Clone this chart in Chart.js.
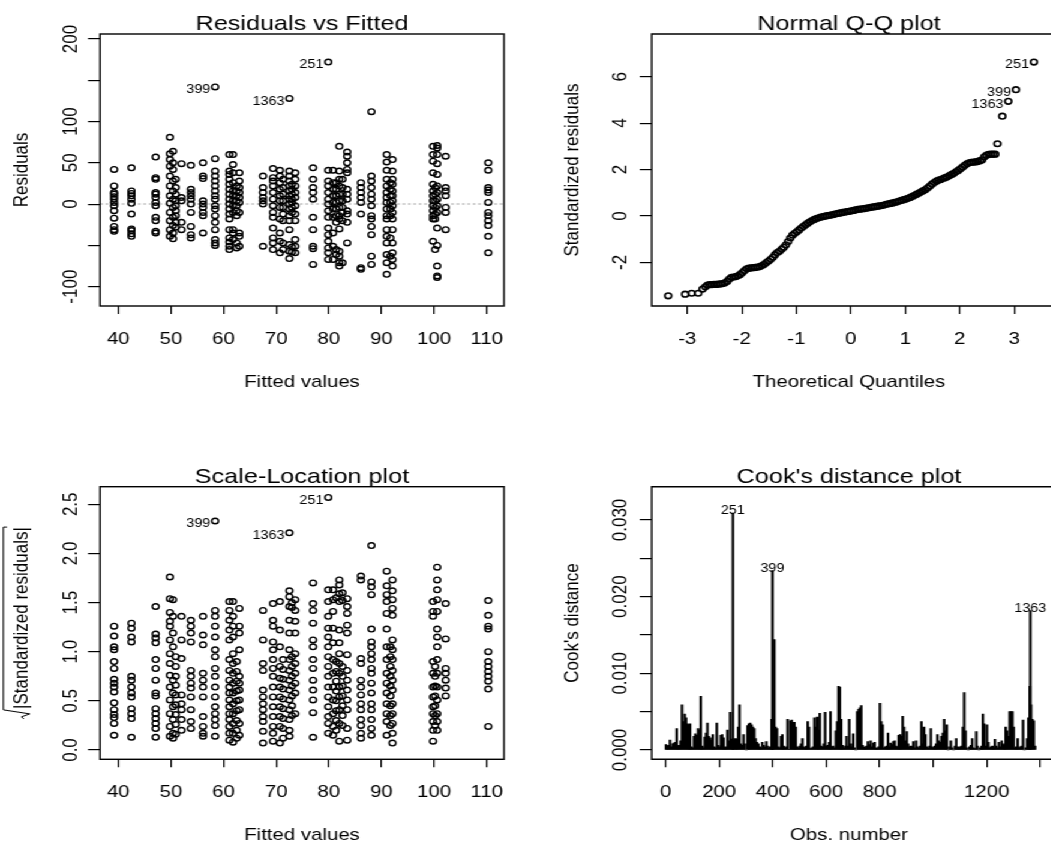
<!DOCTYPE html>
<html>
<head>
<meta charset="utf-8">
<script src="https://cdn.jsdelivr.net/npm/chart.js@4/dist/chart.umd.min.js"></script>
<style>
  html, body { margin: 0; padding: 0; overflow: hidden; background: #fff; width: 1051px; height: 843px; }
  /* R output was stretched sideways, so the whole stage is drawn narrow and scaled */
  #stage { position: absolute; left: 0; top: 0; width: 876px; height: 843px; transform: scaleX(1.2); transform-origin: 0 0; overflow: hidden; }
  .panel { position: absolute; }
</style>
</head>
<body>
<div id="stage">
  <div class="panel" style="left:0;top:0;width:440px;height:420px"><canvas id="c-rvf"></canvas></div>
  <div class="panel" style="left:440px;top:0;width:436px;height:420px"><canvas id="c-qq"></canvas></div>
  <div class="panel" style="left:0;top:420px;width:440px;height:423px"><canvas id="c-sl"></canvas></div>
  <div class="panel" style="left:440px;top:420px;width:436px;height:423px"><canvas id="c-cook"></canvas></div>
</div>
<script>
// fitted value columns (shared by the two left panels)
const fitLevels = [39.2, 42.5, 47.1, 49.8, 50.4, 52.0, 53.8, 56.1, 58.4, 61.1, 61.8, 63.0, 67.5, 69.4, 70.7,
  72.5, 73.6, 77.0, 79.9, 80.8, 82.0, 83.5, 86.1, 88.1, 91.0, 92.1, 99.8, 100.6, 102.2, 110.3,
  50.9, 62.5, 71.3, 73.0, 81.4, 82.6, 91.7, 100.2];

// residuals per fitted column
const residCols = [
  [42, 22, 14, 12, 9, 6, 2, -2, -8, -17, -27, -31, -33],
  [44, 16, 13, 10, 6, 1, -12, -30, -32, -36, -39],
  [57, 32, 30, 14, 12, 8, 2, -2, -16, -20, -33, -35],
  [81, 61, 54, 46, 34, 22, 10, 1, -10, -20, -31, -39],
  [64, 50, 42, 28, 16, 6, -4, -16, -26, -35, -42],
  [49, 8, 4, -22, -31],
  [47, 18, 14, 10, 6, 0, -10, -27, -37, -41],
  [50, 34, 31, 4, 0, -4, -10, -14, -35],
  [55, 40, 34, 28, 22, 16, 10, 6, -2, -6, -14, -22, -31, -43, -47, -50],
  [60, 40, 36, 30, 24, 18, 12, 6, 0, -6, -12, -18, -31, -41, -46, -51, -55],
  [60, 48, 38, 26, 16, 10, 4, -2, -10, -31, -35, -43],
  [38, 28, 20, 14, 8, 2, -10, -35, -39, -51],
  [34, 20, 14, 8, 4, 0, -51],
  [43, 32, 28, 22, 14, 6, -2, -10, -16, -29, -41, -47, -55],
  [41, 34, 26, 18, 10, 4, -4, -18, -35, -45, -59],
  [40, 34, 28, 22, 16, 10, 6, 0, -6, -14, -20, -31, -49, -57, -66],
  [38, 30, 22, 14, 8, -2, -12, -20, -43, -51, -59],
  [44, 30, 20, 14, 6, -16, -31, -51, -54, -73],
  [41, 28, 22, 14, 6, 0, -8, -16, -29, -37, -45, -53, -59, -67],
  [41, 26, 18, 10, 2, -6, -16, -35, -51, -67],
  [70, 40, 30, 22, 12, 4, -4, -14, -18, -30, -57, -63, -71, -75],
  [63, 58, 50, 42, 38, 18, 12, 6, -8, -12, -22, -47],
  [26, 20, 14, 8, 2, -12, -77, -79],
  [112, 34, 28, 20, 12, 6, -2, -14, -18, -27, -37, -63, -73],
  [60, 51, 41, 30, 22, 14, 8, 2, -6, -14, -18, -31, -39, -47, -61, -71, -85],
  [54, 40, 30, 24, 16, 10, 4, -2, -10, -18, -31, -47, -59, -67, -75],
  [70, 60, 52, 38, 24, 16, 10, 4, -2, -8, -14, -18, -45],
  [71, 68, 60, 49, 36, 22, 14, 6, -2, -10, -29, -50, -75, -87, -89],
  [58, 20, 16, 10, -4, -10, -31],
  [50, 41, 20, 17, 14, 2, -10, -14, -20, -26, -39, -59],
  [30, 20, 12, 4, -2, -8, -14, -22, -28],
  [22, 16, 10, 4, -2, -8, -14, -47, -53],
  [30, 20, 12, 4, -4, -12, -20, -47, -55],
  [24, 18, 12, 6, 2, -4, -10, -52, -58],
  [26, 18, 10, 2, -6, -14, -22, -55, -61],
  [30, 20, 12, 4, -4, -10, -20, -71],
  [26, 18, 10, 2, -6, -14, -41, -63],
  [20, 12, 4, -4, -12, -18, -55]
];

// sqrt(|standardized residuals|) per fitted column
const sqrtCols = [
  [1.26, 1.16, 1.05, 1.02, 0.90, 0.83, 0.72, 0.68, 0.64, 0.59, 0.48, 0.41, 0.36, 0.33, 0.27, 0.15],
  [1.29, 1.24, 1.15, 1.10, 0.75, 0.71, 0.64, 0.58, 0.54, 0.42, 0.37, 0.32, 0.13],
  [1.46, 1.18, 1.14, 1.09, 0.92, 0.83, 0.71, 0.58, 0.55, 0.42, 0.37, 0.32, 0.27, 0.22, 0.13],
  [1.76, 1.54, 1.40, 1.31, 1.26, 1.12, 0.98, 0.88, 0.76, 0.64, 0.51, 0.37, 0.24, 0.14],
  [1.53, 1.36, 1.19, 1.05, 0.71, 0.58, 0.44, 0.31, 0.17, 0.12],
  [1.36, 1.12, 0.93, 0.56, 0.47, 0.41, 0.31, 0.20],
  [1.32, 1.26, 1.19, 1.10, 0.81, 0.75, 0.68, 0.63, 0.54, 0.41, 0.29, 0.22],
  [1.36, 1.17, 1.07, 0.78, 0.71, 0.64, 0.54, 0.34, 0.24, 0.17, 0.14],
  [1.42, 1.36, 1.26, 1.15, 1.02, 0.95, 0.83, 0.75, 0.64, 0.54, 0.44, 0.37, 0.31, 0.25, 0.14],
  [1.51, 1.42, 1.32, 1.22, 1.12, 0.92, 0.81, 0.71, 0.64, 0.58, 0.51, 0.44, 0.37, 0.31, 0.24, 0.17, 0.10],
  [1.51, 1.36, 1.26, 1.15, 0.98, 0.88, 0.78, 0.68, 0.58, 0.47, 0.37, 0.27, 0.17, 0.08],
  [1.44, 1.26, 1.19, 1.02, 0.75, 0.68, 0.61, 0.51, 0.41, 0.27, 0.15],
  [1.42, 1.12, 0.88, 0.81, 0.61, 0.54, 0.47, 0.41, 0.34, 0.29, 0.19, 0.07],
  [1.49, 1.32, 1.26, 1.10, 1.02, 0.92, 0.83, 0.75, 0.64, 0.54, 0.44, 0.34, 0.24, 0.17, 0.09],
  [1.51, 1.22, 1.05, 0.85, 0.73, 0.64, 0.54, 0.44, 0.34, 0.24, 0.07],
  [1.62, 1.56, 1.46, 1.32, 1.19, 1.02, 0.92, 0.81, 0.71, 0.61, 0.51, 0.41, 0.31, 0.20, 0.14],
  [1.53, 1.42, 1.31, 1.19, 0.98, 0.88, 0.78, 0.68, 0.58, 0.37],
  [1.70, 1.49, 1.42, 1.29, 1.12, 1.05, 0.92, 0.83, 0.71, 0.61, 0.51, 0.38, 0.13],
  [1.63, 1.51, 1.36, 1.24, 1.15, 1.05, 0.95, 0.85, 0.75, 0.64, 0.54, 0.44, 0.34, 0.27, 0.17],
  [1.63, 1.53, 1.41, 1.24, 1.09, 0.92, 0.78, 0.64, 0.51, 0.37, 0.24, 0.15],
  [1.73, 1.68, 1.59, 1.51, 1.22, 1.09, 0.98, 0.88, 0.78, 0.64, 0.54, 0.41, 0.27, 0.09],
  [1.54, 1.46, 1.39, 1.27, 1.19, 0.97, 0.81, 0.71, 0.61, 0.51, 0.41, 0.22, 0.10],
  [1.77, 1.73, 0.93, 0.88, 0.71, 0.64, 0.56, 0.47, 0.41, 0.31, 0.25, 0.17, 0.12],
  [2.08, 1.71, 1.66, 1.58, 1.23, 1.10, 1.05, 0.98, 0.92, 0.83, 0.78, 0.68, 0.58, 0.47, 0.41, 0.31, 0.22, 0.15],
  [1.82, 1.67, 1.58, 1.51, 1.39, 1.23, 1.05, 0.92, 0.78, 0.68, 0.58, 0.47, 0.37, 0.29, 0.15],
  [1.73, 1.62, 1.53, 1.44, 1.37, 1.12, 1.02, 0.92, 0.81, 0.71, 0.61, 0.47, 0.37, 0.27, 0.17, 0.07],
  [1.51, 1.41, 1.36, 0.90, 0.78, 0.64, 0.54, 0.44, 0.37, 0.29, 0.20, 0.09],
  [1.86, 1.73, 1.63, 1.53, 1.41, 1.23, 1.15, 1.05, 0.92, 0.78, 0.64, 0.51, 0.37, 0.29, 0.20],
  [1.49, 1.13, 0.83, 0.78, 0.71, 0.63, 0.55],
  [1.52, 1.37, 1.26, 1.23, 1.00, 0.90, 0.85, 0.80, 0.75, 0.70, 0.62, 0.24],
  [0.95, 0.85, 0.75, 0.66, 0.56, 0.46, 0.36, 0.26, 0.16],
  [0.90, 0.80, 0.70, 0.60, 0.50, 0.40, 0.30, 0.20, 0.12],
  [0.92, 0.82, 0.72, 0.62, 0.52, 0.42, 0.32, 0.22, 0.12],
  [1.50, 1.45, 0.95, 0.85, 0.75, 0.65, 0.55, 0.45, 0.35],
  [1.55, 0.90, 0.80, 0.70, 0.60, 0.50, 0.40, 0.30, 0.20],
  [1.60, 1.52, 0.85, 0.75, 0.65, 0.55, 0.45, 0.35, 0.25],
  [1.05, 0.95, 0.85, 0.75, 0.65, 0.55, 0.45, 0.35, 0.25],
  [0.85, 0.75, 0.65, 0.55, 0.45, 0.35, 0.25]
];

// the three flagged observations
const obsIds = ['251', '399', '1363'];
const outObs = [251, 399, 1363];
const outFitted = [79.9, 58.4, 72.5];
const outResid = [172, 142, 128];
const outSqrtStd = [2.57, 2.33, 2.21];
const outTheo = [3.36, 3.03, 2.89];
const outStd = [6.63, 5.44, 4.94];
const outCook = [0.0309, 0.0234, 0.0182];

// normal Q-Q points [theoretical quantile, standardized residual]
const qqPairs = [
  [-3.35, -3.44], [-3.04, -3.37], [-2.92, -3.33], [-2.80, -3.33], [-2.72, -3.15], [-2.67, -3.05], [-2.63, -2.98],
  [-2.59, -2.96], [-2.55, -2.96], [-2.51, -2.95], [-2.47, -2.95], [-2.43, -2.94], [-2.39, -2.93], [-2.35, -2.91],
  [-2.31, -2.88], [-2.27, -2.82], [-2.23, -2.72], [-2.19, -2.65], [-2.15, -2.63], [-2.11, -2.61], [-2.07, -2.58],
  [-2.03, -2.52], [-1.99, -2.44], [-1.95, -2.35], [-1.91, -2.28], [-1.87, -2.25], [-1.83, -2.24], [-1.79, -2.23],
  [-1.75, -2.22], [-1.71, -2.20], [-1.67, -2.18], [-1.63, -2.14], [-1.59, -2.08], [-1.55, -2.01], [-1.51, -1.94],
  [-1.47, -1.87], [-1.43, -1.78], [-1.39, -1.67], [-1.35, -1.58], [-1.31, -1.52], [-1.27, -1.44], [-1.23, -1.35],
  [-1.19, -1.24], [-1.15, -1.10], [-1.11, -0.95], [-1.07, -0.83], [-1.03, -0.75], [-0.99, -0.68], [-0.95, -0.60],
  [-0.91, -0.52], [-0.87, -0.45], [-0.83, -0.38], [-0.79, -0.31], [-0.75, -0.25], [-0.71, -0.20], [-0.67, -0.15],
  [-0.63, -0.11], [-0.59, -0.08], [-0.55, -0.05], [-0.51, -0.03], [-0.47, -0.01], [-0.43, 0.01], [-0.39, 0.03],
  [-0.35, 0.05], [-0.31, 0.07], [-0.27, 0.09], [-0.23, 0.11], [-0.19, 0.13], [-0.15, 0.15], [-0.11, 0.17],
  [-0.07, 0.19], [-0.03, 0.20], [0.01, 0.22], [0.05, 0.24], [0.09, 0.26], [0.13, 0.28], [0.17, 0.29],
  [0.21, 0.31], [0.25, 0.32], [0.29, 0.34], [0.33, 0.35], [0.37, 0.37], [0.41, 0.39], [0.45, 0.40],
  [0.49, 0.42], [0.53, 0.43], [0.57, 0.45], [0.61, 0.47], [0.65, 0.50], [0.69, 0.52], [0.73, 0.54],
  [0.77, 0.56], [0.81, 0.59], [0.85, 0.61], [0.89, 0.64], [0.93, 0.67], [0.97, 0.70], [1.01, 0.73],
  [1.05, 0.76], [1.09, 0.80], [1.13, 0.84], [1.17, 0.89], [1.21, 0.94], [1.25, 0.99], [1.29, 1.04],
  [1.33, 1.09], [1.37, 1.14], [1.41, 1.21], [1.45, 1.29], [1.49, 1.37], [1.53, 1.44], [1.57, 1.50],
  [1.61, 1.54], [1.65, 1.57], [1.69, 1.61], [1.73, 1.65], [1.77, 1.69], [1.81, 1.74], [1.85, 1.79],
  [1.89, 1.84], [1.93, 1.90], [1.97, 1.96], [2.01, 2.03], [2.05, 2.10], [2.09, 2.18], [2.13, 2.25],
  [2.17, 2.29], [2.21, 2.31], [2.25, 2.32], [2.29, 2.33], [2.33, 2.35], [2.37, 2.38], [2.41, 2.42],
  [2.45, 2.55], [2.49, 2.62], [2.53, 2.65], [2.57, 2.66], [2.61, 2.66], [2.65, 2.66], [2.69, 3.11], [2.78, 4.30]
];

// Cook's distance, one value per 5 observations (largest in each block)
const cookStep = 5;
const cookD = [
  7e-4, 5e-4, 6e-4, 13e-4, 4e-4, 8e-4, 9e-4, 10e-4, 28e-4, 5e-4,
  6e-4, 12e-4, 59e-4, 37e-4, 47e-4, 42e-4, 34e-4, 33e-4, 34e-4, 4e-4,
  3e-4, 18e-4, 21e-4, 19e-4, 28e-4, 26e-4, 70e-4, 5e-4, 3e-4, 17e-4,
  22e-4, 35e-4, 18e-4, 16e-4, 13e-4, 20e-4, 4e-4, 3e-4, 35e-4, 6e-4,
  4e-4, 19e-4, 20e-4, 16e-4, 3e-4, 4e-4, 26e-4, 12e-4, 49e-4, 14e-4,
  15e-4, 13e-4, 15e-4, 14e-4, 30e-4, 59e-4, 8e-4, 6e-4, 20e-4, 8e-4,
  0, 32e-4, 34e-4, 35e-4, 33e-4, 30e-4, 28e-4, 15e-4, 10e-4, 8e-4,
  4e-4, 3e-4, 10e-4, 6e-4, 4e-4, 11e-4, 5e-4, 3e-4, 4e-4, 40e-4,
  40e-4, 144e-4, 30e-4, 28e-4, 4e-4, 3e-4, 18e-4, 20e-4, 5e-4, 3e-4,
  4e-4, 40e-4, 1e-4, 38e-4, 39e-4, 36e-4, 36e-4, 30e-4, 4e-4, 3e-4,
  5e-4, 8e-4, 15e-4, 4e-4, 3e-4, 5e-4, 37e-4, 30e-4, 2e-4, 3e-4,
  4e-4, 42e-4, 30e-4, 43e-4, 26e-4, 48e-4, 5e-4, 4e-4, 8e-4, 49e-4,
  5e-4, 6e-4, 10e-4, 50e-4, 4e-4, 5e-4, 3e-4, 25e-4, 37e-4, 83e-4,
  82e-4, 40e-4, 6e-4, 3e-4, 5e-4, 18e-4, 5e-4, 40e-4, 8e-4, 4e-4,
  21e-4, 3e-4, 0, 50e-4, 53e-4, 55e-4, 58e-4, 6e-4, 4e-4, 3e-4,
  5e-4, 11e-4, 7e-4, 12e-4, 4e-4, 9e-4, 10e-4, 3e-4, 2e-4, 4e-4,
  61e-4, 37e-4, 33e-4, 3e-4, 4e-4, 5e-4, 22e-4, 4e-4, 9e-4, 7e-4,
  11e-4, 12e-4, 5e-4, 4e-4, 19e-4, 20e-4, 18e-4, 44e-4, 30e-4, 12e-4,
  24e-4, 8e-4, 4e-4, 5e-4, 4e-4, 11e-4, 3e-4, 12e-4, 4e-4, 3e-4,
  5e-4, 37e-4, 8e-4, 30e-4, 20e-4, 4e-4, 3e-4, 5e-4, 28e-4, 4e-4,
  3e-4, 5e-4, 8e-4, 20e-4, 12e-4, 10e-4, 18e-4, 22e-4, 40e-4, 25e-4,
  33e-4, 0, 4e-4, 12e-4, 3e-4, 0, 5e-4, 15e-4, 4e-4, 3e-4,
  4e-4, 5e-4, 30e-4, 75e-4, 25e-4, 3e-4, 0, 4e-4, 6e-4, 15e-4,
  3e-4, 2e-4, 24e-4, 5e-4, 0, 3e-4, 5e-4, 47e-4, 34e-4, 5e-4,
  33e-4, 10e-4, 3e-4, 4e-4, 5e-4, 3e-4, 14e-4, 5e-4, 3e-4, 10e-4,
  4e-4, 12e-4, 8e-4, 6e-4, 30e-4, 25e-4, 18e-4, 50e-4, 50e-4, 50e-4,
  30e-4, 3e-4, 4e-4, 15e-4, 3e-4, 4e-4, 5e-4, 39e-4, 0, 3e-4,
  15e-4, 42e-4, 83e-4, 59e-4, 40e-4, 38e-4, 5e-4
];
const cookObs = cookD.map((_, i) => 1 + i * cookStep);

Chart.defaults.font.family = "'Liberation Sans', Arial, Helvetica, sans-serif";
Chart.defaults.color = '#000';
const FAM = Chart.defaults.font.family;

// box, titles, rotated y labels and point ids, R style
function decor(p) {
  return {
    id: 'decor',
    beforeDatasetsDraw(chart) {
      if (!p.zeroLine) return;
      const a = chart.chartArea, ctx = chart.ctx;
      const y = chart.scales.y.getPixelForValue(0);
      ctx.save();
      ctx.strokeStyle = '#c4c4c4';
      ctx.lineWidth = 1.5;
      ctx.setLineDash([2.5, 2]);
      ctx.beginPath(); ctx.moveTo(a.left, y); ctx.lineTo(a.right, y); ctx.stroke();
      ctx.restore();
    },
    afterDraw(chart) {
      const ctx = chart.ctx, a = chart.chartArea, sx = chart.scales.x, sy = chart.scales.y;
      const cx = p.cx != null ? p.cx : (a.left + a.right) / 2;
      ctx.save();
      ctx.strokeStyle = '#000';
      ctx.lineWidth = 1.4;
      if (p.openRight) {
        // the right edge of these boxes lies past the picture
        ctx.beginPath();
        ctx.moveTo(chart.width + 5, a.top); ctx.lineTo(a.left, a.top);
        ctx.lineTo(a.left, a.bottom); ctx.lineTo(chart.width + 5, a.bottom);
        ctx.stroke();
      } else {
        ctx.strokeRect(a.left, a.top, a.right - a.left, a.bottom - a.top);
      }

      ctx.fillStyle = '#000';
      ctx.textAlign = 'center';
      ctx.textBaseline = 'alphabetic';
      ctx.font = '21px ' + FAM;
      ctx.fillText(p.title, cx, a.top - 4);
      ctx.font = '17px ' + FAM;
      ctx.fillText(p.xTitle, cx, a.bottom + 81);

      ctx.textBaseline = 'middle';
      sy.ticks.forEach(t => {
        const lab = p.yFmt(t.value);
        if (!lab) return;
        ctx.save();
        ctx.translate(a.left - p.yLabOff, sy.getPixelForValue(t.value));
        ctx.rotate(-Math.PI / 2);
        ctx.fillText(lab, 0, 0);
        ctx.restore();
      });

      ctx.save();
      ctx.translate(a.left - 65.5, (a.top + a.bottom) / 2);
      ctx.rotate(-Math.PI / 2);
      if (p.sqrtTitle) {
        const s = '|Standardized residuals|';
        const ws = ctx.measureText(s).width;
        const x0 = -(10 + ws) / 2;
        ctx.textAlign = 'left';
        ctx.fillText(s, x0 + 10, 0);
        ctx.lineWidth = 1;
        ctx.beginPath();
        ctx.moveTo(x0, 2); ctx.lineTo(x0 + 2, 0); ctx.lineTo(x0 + 5, 7); ctx.lineTo(x0 + 9, -15);
        ctx.lineTo(x0 + 10 + ws, -15); ctx.lineTo(x0 + 10 + ws, -12);
        ctx.stroke();
      } else {
        ctx.fillText(p.yTitle, 0, 0);
      }
      ctx.restore();

      ctx.font = '12px ' + FAM;
      p.marks.forEach(m => {
        const px = sx.getPixelForValue(m.x), py = sy.getPixelForValue(m.y);
        if (p.markMode === 'top') {
          ctx.textAlign = 'center';
          ctx.fillText(m.text, px, py - 2);
        } else {
          ctx.textAlign = 'right';
          ctx.fillText(m.text, px - 4, py + 3);
        }
      });
      ctx.restore();
    }
  };
}

function panel(id, p) {
  return new Chart(document.getElementById(id), {
    type: p.type,
    data: { datasets: p.datasets },
    options: {
      responsive: true,
      maintainAspectRatio: false,
      animation: false,
      events: [],
      // no automatic room for point overflow: the box edges are placed by hand
      layout: { autoPadding: false, padding: { left: 0, top: p.padTop, right: p.padRight, bottom: 0 } },
      plugins: { legend: { display: false }, tooltip: { enabled: false } },
      scales: {
        x: {
          type: 'linear', position: 'bottom', min: p.xMin, max: p.xMax, offset: false,
          grid: { drawOnChartArea: false, drawTicks: true, tickLength: 8, color: '#000', lineWidth: 1.2, offset: false },
          border: { display: false },
          ticks: { stepSize: p.xStep, includeBounds: false, autoSkip: false, maxRotation: 0, minRotation: 0,
                   color: '#000', font: { size: 17 }, padding: 15, callback: p.xFmt },
          afterFit: s => { s.height = p.xAxisH; s.paddingLeft = 0; s.paddingRight = 0; }
        },
        y: {
          type: 'linear', position: 'left', min: p.yMin, max: p.yMax,
          grid: { drawOnChartArea: false, drawTicks: true, tickLength: 10, color: '#000', lineWidth: 1.2 },
          border: { display: false },
          ticks: { display: false, stepSize: p.yStep, includeBounds: false, autoSkip: false },
          afterFit: s => { s.width = p.yAxisW; s.paddingTop = 0; s.paddingBottom = 0; }
        }
      }
    },
    plugins: [decor(p)]
  });
}

const circles = { showLine: false, pointStyle: 'circle', pointRadius: 2.8, pointHoverRadius: 2.8,
  pointBorderWidth: 1.4, pointBorderColor: '#000', pointBackgroundColor: 'rgba(0,0,0,0)' };

const rvfPts = fitLevels.flatMap((f, i) => residCols[i].map(r => ({ x: f, y: r })))
  .concat(outFitted.map((f, i) => ({ x: f, y: outResid[i] })));
const slPts = fitLevels.flatMap((f, i) => sqrtCols[i].map(v => ({ x: f, y: v })))
  .concat(outFitted.map((f, i) => ({ x: f, y: outSqrtStd[i] })));
const qqPts = qqPairs.map(q => ({ x: q[0], y: q[1] }))
  .concat(outTheo.map((t, i) => ({ x: t, y: outStd[i] })));

const str = v => String(v);

panel('c-rvf', {
  type: 'scatter',
  datasets: [Object.assign({ data: rvfPts }, circles)],
  padTop: 34, padRight: 20, yAxisW: 83.33, xAxisH: 114,
  xMin: 36.52, xMax: 113.29, xStep: 10, xFmt: str,
  yMin: -123.4, yMax: 206.06, yStep: 50,
  yFmt: v => [200, 100, 50, 0, -100].includes(v) ? String(v) : '',
  yLabOff: 23.6, zeroLine: true,
  title: 'Residuals vs Fitted', xTitle: 'Fitted values', yTitle: 'Residuals',
  marks: obsIds.map((t, i) => ({ x: outFitted[i], y: outResid[i], text: t })), markMode: 'left'
});

panel('c-qq', {
  type: 'scatter',
  datasets: [Object.assign({ data: qqPts }, circles, { pointBorderWidth: 1.6 })],
  padTop: 34, padRight: 0, yAxisW: 103.1, xAxisH: 114, cx: 267.5, openRight: true,
  xMin: -3.653, xMax: 3.677, xStep: 1, xFmt: str,
  yMin: -3.88, yMax: 7.84, yStep: 2, yFmt: str,
  yLabOff: 25.7,
  title: 'Normal Q-Q plot', xTitle: 'Theoretical Quantiles', yTitle: 'Standardized residuals',
  marks: obsIds.map((t, i) => ({ x: outTheo[i], y: outStd[i], text: t })), markMode: 'left'
});

panel('c-sl', {
  type: 'scatter',
  datasets: [Object.assign({ data: slPts }, circles)],
  padTop: 66.7, padRight: 20, yAxisW: 83.33, xAxisH: 83.7,
  xMin: 36.52, xMax: 113.29, xStep: 10, xFmt: str,
  yMin: -0.0946, yMax: 2.679, yStep: 0.5, yFmt: v => v.toFixed(1),
  yLabOff: 23.6, sqrtTitle: true,
  title: 'Scale-Location plot', xTitle: 'Fitted values', yTitle: '',
  marks: obsIds.map((t, i) => ({ x: outFitted[i], y: outSqrtStd[i], text: t })), markMode: 'left'
});

panel('c-cook', {
  type: 'bar',
  datasets: [
    { data: cookD.map((d, i) => ({ x: cookObs[i], y: d })), backgroundColor: '#000', borderWidth: 0, barThickness: 1.5, grouped: false },
    { data: outObs.map((o, i) => ({ x: o, y: outCook[i] })), backgroundColor: '#000', borderWidth: 0, barThickness: 1.5, grouped: false }
  ],
  padTop: 66.7, padRight: 0, yAxisW: 103.1, xAxisH: 83.7, cx: 267.5, openRight: true,
  xMin: -52.3, xMax: 1441.2, xStep: 200, xFmt: v => (v === 1000 || v === 1400) ? '' : String(v),
  yMin: -0.00121, yMax: 0.03434, yStep: 0.005,
  yFmt: v => Math.abs(v * 100 - Math.round(v * 100)) < 1e-6 ? v.toFixed(3) : '',
  yLabOff: 25.7,
  title: "Cook's distance plot", xTitle: 'Obs. number', yTitle: "Cook's distance",
  marks: obsIds.map((t, i) => ({ x: outObs[i], y: outCook[i], text: t })), markMode: 'top'
});
</script>
</body>
</html>
